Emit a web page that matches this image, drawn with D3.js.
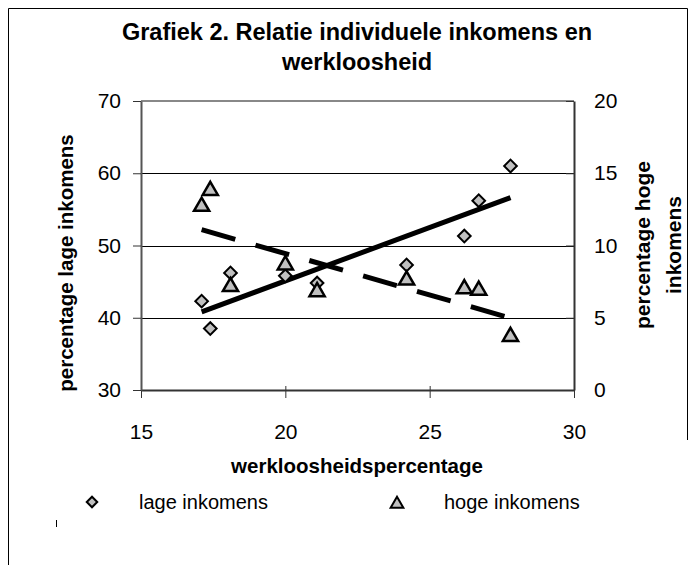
<!DOCTYPE html>
<html>
<head>
<meta charset="utf-8">
<script src="https://cdn.jsdelivr.net/npm/d3@7"></script>
<style>
  body { margin: 0; background: #fff; }
  svg { display: block; font-family: Arial, "Liberation Sans", sans-serif; }
</style>
</head>
<body>
<svg id="chart" width="697" height="565"></svg>
<script>
// ---- data ----
const werkloosheid = [17.1, 17.4, 18.1, 20.0, 21.1, 24.2, 26.2, 26.7, 27.8];
const lageInkomens = [42.3, 38.5, 46.2, 45.8, 44.8, 47.3, 51.3, 56.2, 61.0];
const hogeInkomens = [12.7, 13.8, 7.15, 8.65, 6.8, 7.6, 7.0, 6.9, 3.7];
const xTicks = [15, 20, 25, 30];
const leftTicks = [30, 40, 50, 60, 70];
const rightTicks = [0, 5, 10, 15, 20];

const titleLines = ['Grafiek 2. Relatie individuele inkomens en', 'werkloosheid'];
const xTitle = 'werkloosheidspercentage';
const leftTitle = 'percentage lage inkomens';
const rightTitle = ['percentage hoge', 'inkomens'];
const legendLabels = ['lage inkomens', 'hoge inkomens'];

const svg = d3.select('#chart');
const plot = { left: 141, right: 574, top: 101, bottom: 390 };

// outer frame
svg.append('path')
  .attr('d', 'M8.5,565 L8.5,8.5 L687.5,8.5 L687.5,440')
  .attr('fill', 'none')
  .attr('stroke', '#000')
  .attr('stroke-width', 1);

// scales
const x = d3.scaleLinear().domain([15, 30]).range([plot.left, plot.right]);
const yL = d3.scaleLinear().domain([30, 70]).range([plot.bottom, plot.top]);
const yR = d3.scaleLinear().domain([0, 20]).range([plot.bottom, plot.top]);

// gridlines
svg.append('g')
  .selectAll('line')
  .data(leftTicks.filter(d => d > 30 && d < 70))
  .join('line')
  .attr('x1', plot.left).attr('x2', plot.right)
  .attr('y1', d => Math.round(yL(d)) + 0.5).attr('y2', d => Math.round(yL(d)) + 0.5)
  .attr('stroke', '#000').attr('stroke-width', 1);

// top border of plot area
svg.append('line')
  .attr('x1', plot.left).attr('x2', plot.right)
  .attr('y1', plot.top).attr('y2', plot.top)
  .attr('stroke', '#888').attr('stroke-width', 2);

// axes
const fmt = d3.format('d');
const axisStyle = g => {
  g.select('.domain').attr('stroke', '#333').attr('stroke-width', 2);
  g.selectAll('.tick line').attr('stroke', '#333');
  g.selectAll('.tick text').attr('fill', '#000').style('font-size', '21px')
    .style('font-family', 'Arial, "Liberation Sans", sans-serif');
};

svg.append('g')
  .attr('transform', `translate(0,${plot.bottom})`)
  .call(d3.axisBottom(x).tickValues(xTicks).tickFormat(fmt).tickSizeInner(8).tickSizeOuter(0).tickPadding(26))
  .call(axisStyle)
  .call(g => g.selectAll('.tick line').attr('y1', -4).attr('y2', 8));

svg.append('g')
  .attr('transform', `translate(${plot.left},0)`)
  .call(d3.axisLeft(yL).tickValues(leftTicks).tickFormat(fmt).tickSizeInner(8).tickSizeOuter(0).tickPadding(12))
  .call(axisStyle)
  .call(g => g.select('.domain').attr('stroke', '#555'));

svg.append('g')
  .attr('transform', `translate(${plot.right},0)`)
  .call(d3.axisRight(yR).tickValues(rightTicks).tickFormat(fmt).tickSizeInner(8).tickSizeOuter(0).tickPadding(12))
  .call(axisStyle)
  .call(g => g.selectAll('.tick line').attr('x1', -8).attr('x2', 0));

// regression lines
function fitLine(xs, ys) {
  const mx = d3.mean(xs), my = d3.mean(ys);
  const b = d3.sum(xs, (v, i) => (v - mx) * (ys[i] - my)) / d3.sum(xs, v => (v - mx) * (v - mx));
  const a = my - b * mx;
  const ext = d3.extent(xs);
  return ext.map(v => [v, a + b * v]);
}

const lageFit = fitLine(werkloosheid, lageInkomens);
const hogeFit = fitLine(werkloosheid, hogeInkomens);

svg.append('path')
  .datum(lageFit)
  .attr('d', d3.line().x(d => x(d[0])).y(d => yL(d[1])))
  .attr('fill', 'none').attr('stroke', '#000').attr('stroke-width', 5);

svg.append('path')
  .datum(hogeFit)
  .attr('d', d3.line().x(d => x(d[0])).y(d => yR(d[1])))
  .attr('fill', 'none').attr('stroke', '#000').attr('stroke-width', 5)
  .attr('stroke-dasharray', '35,21');

// markers
const diamond = d3.symbol().type(d3.symbolSquare).size(80);
const triangle = d3.symbol().type(d3.symbolTriangle).size(100);

svg.append('g')
  .selectAll('path')
  .data(werkloosheid.map((v, i) => [v, lageInkomens[i]]))
  .join('path')
  .attr('d', diamond)
  .attr('transform', d => `translate(${x(d[0])},${yL(d[1])}) rotate(45)`)
  .attr('fill', '#c0c0c0').attr('stroke', '#000').attr('stroke-width', 2);

svg.append('g')
  .selectAll('path')
  .data(werkloosheid.map((v, i) => [v, hogeInkomens[i]]))
  .join('path')
  .attr('d', triangle)
  .attr('transform', d => `translate(${x(d[0])},${yR(d[1])})`)
  .attr('fill', '#c0c0c0').attr('stroke', '#000').attr('stroke-width', 2.5);

// title
svg.append('g')
  .selectAll('text')
  .data(titleLines)
  .join('text')
  .attr('x', 357).attr('y', (d, i) => 40 + i * 30)
  .attr('text-anchor', 'middle')
  .style('font-size', '23.5px').style('font-weight', 'bold')
  .text(d => d);

// axis titles
svg.append('text')
  .attr('x', 357).attr('y', 473)
  .attr('text-anchor', 'middle')
  .style('font-size', '20.5px').style('font-weight', 'bold')
  .text(xTitle);

svg.append('text')
  .attr('transform', 'translate(73,263) rotate(-90)')
  .attr('text-anchor', 'middle')
  .style('font-size', '20.5px').style('font-weight', 'bold')
  .text(leftTitle);

svg.append('g')
  .selectAll('text')
  .data(rightTitle)
  .join('text')
  .attr('transform', (d, i) => `translate(${650 + i * 31},245) rotate(-90)`)
  .attr('text-anchor', 'middle')
  .style('font-size', '21px').style('font-weight', 'bold')
  .text(d => d);

// legend
const legend = svg.append('g');
legend.append('path')
  .attr('d', d3.symbol().type(d3.symbolSquare).size(55))
  .attr('transform', 'translate(92,502) rotate(45)')
  .attr('fill', '#c0c0c0').attr('stroke', '#000').attr('stroke-width', 2);
legend.append('path')
  .attr('d', d3.symbol().type(d3.symbolTriangle).size(70))
  .attr('transform', 'translate(397,504)')
  .attr('fill', '#c0c0c0').attr('stroke', '#000').attr('stroke-width', 2);
legend.selectAll('text')
  .data(legendLabels)
  .join('text')
  .attr('x', (d, i) => i === 0 ? 139 : 444)
  .attr('y', 509)
  .style('font-size', '20px')
  .text(d => d);

// small stray tick
svg.append('line')
  .attr('x1', 56.5).attr('x2', 56.5).attr('y1', 520).attr('y2', 527)
  .attr('stroke', '#000').attr('stroke-width', 1);
</script>
</body>
</html>
